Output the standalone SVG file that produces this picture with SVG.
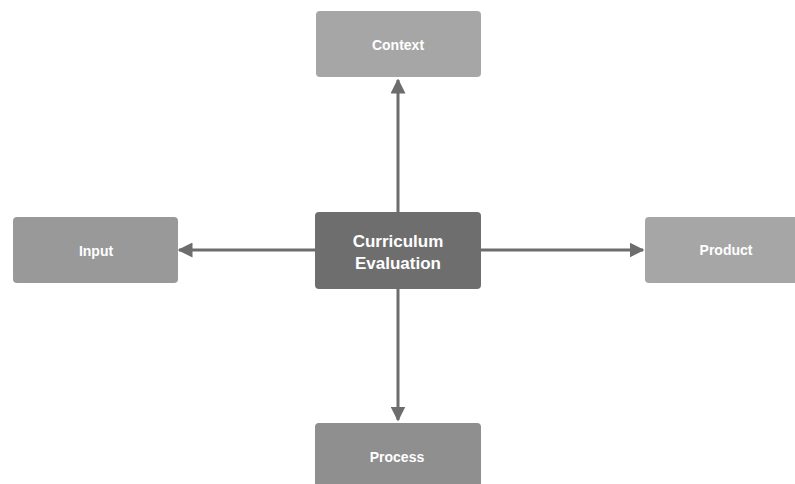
<svg xmlns="http://www.w3.org/2000/svg" width="795" height="484" viewBox="0 0 795 484">
<style>
.n{stroke:none}
.t{font-family:"Liberation Sans",Arial,sans-serif;font-weight:bold;fill:#fff;text-anchor:middle}
.s{font-size:14px}
.c{font-size:17px}
.e{stroke:#6d6d6d;stroke-width:3;fill:none}
</style>
<defs>
<marker id="ah" viewBox="0 0 10 10" refX="9" refY="5" markerWidth="5" markerHeight="5" orient="auto" markerUnits="strokeWidth">
<path d="M0,0 L10,5 L0,10 z" fill="#6d6d6d"/>
</marker>
</defs>
<rect width="795" height="484" fill="#fff"/>
<g id="connectors">
<line class="e" x1="398" y1="212" x2="398" y2="80" marker-end="url(#ah)"/>
<line class="e" x1="398" y1="288" x2="398" y2="420" marker-end="url(#ah)"/>
<line class="e" x1="315" y1="250" x2="179" y2="250" marker-end="url(#ah)"/>
<line class="e" x1="481" y1="250" x2="643" y2="250" marker-end="url(#ah)"/>
</g>
<g id="context">
<rect class="n" x="316" y="11" width="165" height="66" rx="4" fill="#a6a6a6"/>
<text class="t s" x="398" y="50">Context</text>
</g>
<g id="center">
<rect class="n" x="315" y="212" width="166" height="77" rx="4" fill="#6e6e6e"/>
<text class="t c" x="398" y="247">Curriculum</text>
<text class="t c" x="398" y="269">Evaluation</text>
</g>
<g id="input">
<rect class="n" x="13" y="217" width="165" height="66" rx="4" fill="#999999"/>
<text class="t s" x="96" y="256">Input</text>
</g>
<g id="product">
<rect class="n" x="645" y="217" width="165" height="66" rx="4" fill="#a6a6a6"/>
<text class="t s" x="726" y="255">Product</text>
</g>
<g id="process">
<rect class="n" x="315" y="423" width="166" height="70" rx="4" fill="#8f8f8f"/>
<text class="t s" x="397" y="462">Process</text>
</g>
</svg>
